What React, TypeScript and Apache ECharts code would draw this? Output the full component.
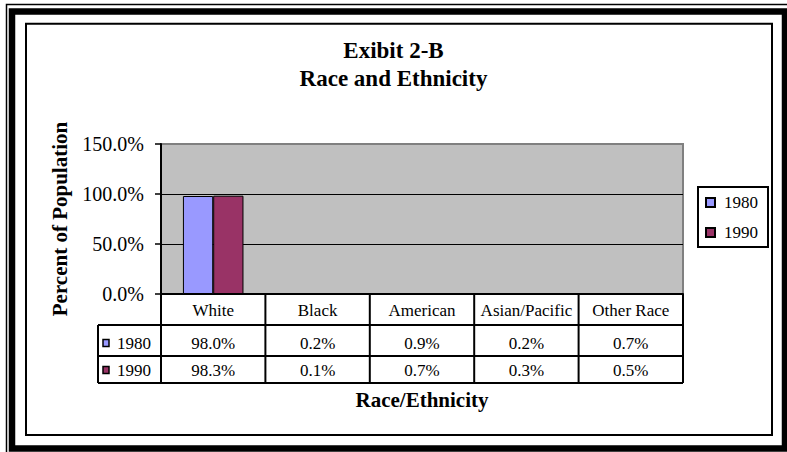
import React, { useEffect, useRef } from "react";
import * as echarts from "echarts";

const categories = ["White", "Black", "American", "Asian/Pacific", "Other Race"];
const seriesNames = ["1980", "1990"];
const values1980 = [0.98, 0.002, 0.009, 0.002, 0.007];
const values1990 = [0.983, 0.001, 0.007, 0.003, 0.005];
const yMin = 0;
const yMax = 1.5;
const yStep = 0.5;
const titleLines = ["Exibit 2-B", "Race and Ethnicity"];
const yAxisTitle = "Percent of Population";
const xAxisTitle = "Race/Ethnicity";
const seriesColors = ["#9999FF", "#993366"];

const FONT = "'Liberation Serif', 'Times New Roman', Times, serif";
const pct = (v: number) => (v * 100).toFixed(1) + "%";

export default function App() {
  const ref = useRef<HTMLDivElement>(null);

  useEffect(() => {
    document.body.style.margin = "0";
    const chart = echarts.init(ref.current!, null, { renderer: "svg" });
    const allValues = [values1980, values1990];

    chart.setOption({
      animation: false,
      backgroundColor: "#ffffff",
      textStyle: { fontFamily: FONT, color: "#000" },
      title: {
        text: titleLines.join("\n"),
        left: "center",
        top: 36,
        padding: [0, 0, 0, 13],
        textStyle: { fontFamily: FONT, fontSize: 23, fontWeight: "bold", lineHeight: 28, color: "#000" },
      },
      legend: {
        orient: "vertical",
        left: 698,
        top: 187,
        padding: [7, 10, 6, 7],
        itemGap: 13,
        itemWidth: 9,
        itemHeight: 9,
        icon: "rect",
        borderColor: "#000",
        borderWidth: 2,
        itemStyle: { borderColor: "#000", borderWidth: 2 },
        textStyle: { fontFamily: FONT, fontSize: 17, color: "#000", padding: [0, 0, 0, 4] },
        data: seriesNames,
      },
      grid: {
        left: 161,
        top: 144,
        width: 522,
        height: 150,
        show: true,
        backgroundColor: "#C0C0C0",
        borderColor: "#808080",
        borderWidth: 2,
      },
      xAxis: {
        type: "category",
        data: categories,
        axisLine: { lineStyle: { color: "#000", width: 2 } },
        axisTick: { show: false },
        axisLabel: { interval: 0, margin: 8, fontSize: 17, color: "#000", fontFamily: FONT },
        splitLine: { show: false },
      },
      yAxis: {
        type: "value",
        min: yMin,
        max: yMax,
        interval: yStep,
        axisLine: { show: true, lineStyle: { color: "#000", width: 2 } },
        axisTick: { show: true, length: 6, lineStyle: { color: "#000", width: 1.5 } },
        axisLabel: { formatter: pct, fontSize: 20, margin: 17, color: "#000", fontFamily: FONT },
        splitLine: { show: true, showMaxLine: false, lineStyle: { color: "#000", width: 1 } },
      },
      series: seriesNames.map((name, s) => ({
        name,
        type: "bar",
        data: allValues[s],
        barGap: "0%",
        barCategoryGap: "42%",
        itemStyle: { color: seriesColors[s], borderColor: "#000", borderWidth: 1 },
      })),
    });

    // data table + frame, positioned from the chart's own scales
    const centers = categories.map((c) => chart.convertToPixel({ xAxisIndex: 0 }, c) as number);
    const band = centers[1] - centers[0];
    const gl = centers[0] - band / 2;
    const gr = centers[centers.length - 1] + band / 2;
    const y0 = chart.convertToPixel({ yAxisIndex: 0 }, 0) as number;
    const tableLeft = 98;
    const rowBottoms = [y0 + 31, y0 + 62, y0 + 89];
    const rowTextY = [y0 + 49, y0 + 76];

    const line = (x1: number, y1: number, x2: number, y2: number, w = 2) => ({
      type: "line",
      shape: { x1, y1, x2, y2 },
      style: { stroke: "#000", lineWidth: w },
      silent: true,
    });
    const txt = (text: string, x: number, y: number, size: number, bold: boolean, align: string, extra: any = {}) => ({
      type: "text",
      x,
      y,
      ...extra,
      style: {
        text,
        fill: "#000",
        fontFamily: FONT,
        fontSize: size,
        fontWeight: bold ? "bold" : "normal",
        align,
        textAlign: align,
        verticalAlign: "middle",
        textVerticalAlign: "middle",
      },
      silent: true,
    });

    const elements: any[] = [];
    // frame
    elements.push({ type: "rect", shape: { x: 6.5, y: 4.5, width: 820, height: 480 }, style: { fill: "none", stroke: "#000", lineWidth: 1.5 }, silent: true });
    elements.push({ type: "rect", shape: { x: 12, y: 11.5, width: 773, height: 437 }, style: { fill: "none", stroke: "#000", lineWidth: 6.5 }, silent: true });
    elements.push({ type: "rect", shape: { x: 26, y: 23.7, width: 746, height: 411.3 }, style: { fill: "none", stroke: "#000", lineWidth: 2 }, silent: true });

    // table lines
    rowBottoms.forEach((y) => elements.push(line(tableLeft, y, gr, y)));
    elements.push(line(tableLeft, rowBottoms[0], tableLeft, rowBottoms[2]));
    for (let i = 0; i <= categories.length; i++) {
      const x = gl + i * band;
      elements.push(line(x, y0, x, rowBottoms[2]));
    }
    // table rows
    seriesNames.forEach((name, s) => {
      const cy = rowTextY[s];
      elements.push({
        type: "rect",
        shape: { x: 103, y: cy - 3.5, width: 6, height: 7 },
        style: { fill: seriesColors[s], stroke: "#000", lineWidth: 1.5 },
        silent: true,
      });
      elements.push(txt(name, 117, cy, 17, false, "left"));
      allValues[s].forEach((v, i) => elements.push(txt(pct(v), centers[i], cy, 17, false, "center")));
    });
    // axis titles
    elements.push(txt(yAxisTitle, 60, (y0 + chart.convertToPixel({ yAxisIndex: 0 }, yMax) as number) / 2, 21, true, "center", { rotation: Math.PI / 2 }));
    elements.push(txt(xAxisTitle, (gl + gr) / 2, 400, 21, true, "center"));

    chart.setOption({ graphic: { elements } });

    return () => chart.dispose();
  }, []);

  return <div ref={ref} style={{ position: "fixed", left: 0, top: 0, width: 787, height: 452 }} />;
}
